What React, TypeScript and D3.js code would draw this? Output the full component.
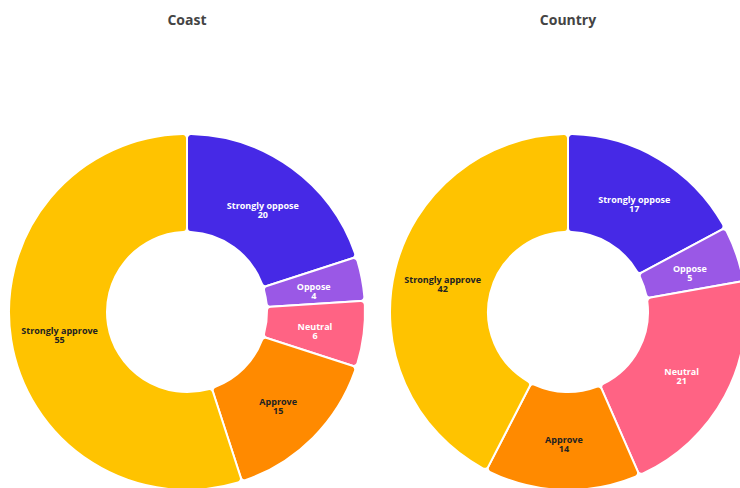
import React from "react";
import * as d3 from "d3";

const categories = ["Strongly oppose", "Oppose", "Neutral", "Approve", "Strongly approve"];
const coastValues = [20, 4, 6, 15, 55];
const countryValues = [17, 5, 21, 14, 42];
const titles = ["Coast", "Country"];
const colors = ["#4629e6", "#9a58e6", "#ff6384", "#ff8a00", "#ffc300"];
const labelColors = ["#ffffff", "#ffffff", "#ffffff", "#222222", "#222222"];

const width = 740;
const height = 488;
const outerR = 178;
const innerR = 80;

interface Slice {
  label: string;
  value: number;
  index: number;
}

const Donut: React.FC<{ values: number[]; cx: number; cy: number; title: string }> = ({
  values,
  cx,
  cy,
  title,
}) => {
  const data: Slice[] = categories.map((c, i) => ({ label: c, value: values[i], index: i }));
  const pie = d3
    .pie<Slice>()
    .sort(null)
    .value((d) => d.value);
  const arc = d3
    .arc<d3.PieArcDatum<Slice>>()
    .innerRadius(innerR)
    .outerRadius(outerR)
    .cornerRadius(4);
  const arcs = pie(data);

  return (
    <g>
      <text
        x={cx}
        y={25}
        textAnchor="middle"
        fontFamily="'Open Sans', sans-serif"
        fontWeight={700}
        fontSize={14}
        fill="#444"
      >
        {title}
      </text>
      <g transform={`translate(${cx},${cy})`}>
        {arcs.map((a) => (
          <path
            key={a.data.label}
            d={arc(a) || ""}
            fill={colors[a.data.index]}
            stroke="#fff"
            strokeWidth={2}
          />
        ))}
        {arcs.map((a) => {
          const [x, y] = arc.centroid(a);
          return (
            <text
              key={"l" + a.data.label}
              x={x}
              y={y}
              textAnchor="middle"
              fontFamily="'Open Sans', sans-serif"
              fontWeight={700}
              fontSize={9}
              fill={labelColors[a.data.index]}
            >
              <tspan x={x} dy="0.2em">{a.data.label}</tspan>
              <tspan x={x} dy="1em">{a.data.value}</tspan>
            </text>
          );
        })}
      </g>
    </g>
  );
};

const App: React.FC = () => {
  return (
    <svg
      width={width}
      height={height}
      style={{ position: "absolute", left: 0, top: 0, display: "block", background: "#fff" }}
    >
      <Donut values={coastValues} cx={187} cy={312} title={titles[0]} />
      <Donut values={countryValues} cx={568} cy={312} title={titles[1]} />
    </svg>
  );
};

export default App;
